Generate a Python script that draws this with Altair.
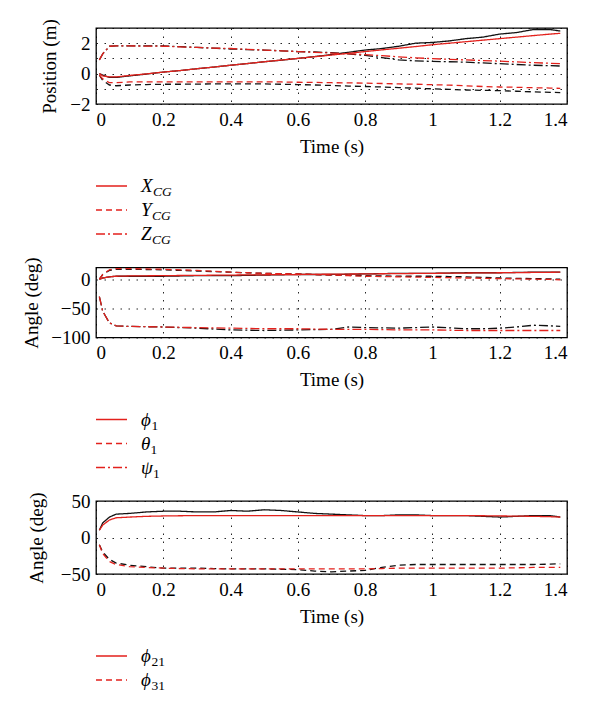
import altair as alt
import pandas as pd

SERIF = "Liberation Serif"
RED = "#e3211c"
BLACK = "#111111"

T = [0.01, 0.02, 0.04, 0.06, 0.1, 0.15, 0.2, 0.25, 0.3, 0.35, 0.4, 0.45, 0.5, 0.55, 0.6,
     0.65, 0.7, 0.75, 0.8, 0.85, 0.9, 0.95, 1.0, 1.05, 1.1, 1.15, 1.2, 1.25, 1.3, 1.35, 1.38]

# Panel 1: position (m)
X_red = [0.0, -0.15, -0.22, -0.22, -0.12, -0.02, 0.1, 0.2, 0.32, 0.43, 0.55, 0.66, 0.78, 0.89, 1.0,
         1.11, 1.22, 1.33, 1.45, 1.56, 1.67, 1.78, 1.9, 2.0, 2.1, 2.2, 2.3, 2.4, 2.5, 2.6, 2.65]
X_blk = [0.0, -0.1, -0.25, -0.25, -0.15, -0.03, 0.1, 0.2, 0.32, 0.43, 0.55, 0.66, 0.78, 0.88, 1.0,
         1.12, 1.25, 1.4, 1.55, 1.65, 1.8, 2.0, 2.05, 2.15, 2.3, 2.4, 2.6, 2.7, 2.9, 2.9, 2.8]
Y_red = [-0.1, -0.35, -0.6, -0.6, -0.55, -0.55, -0.55, -0.55, -0.55, -0.55, -0.55, -0.55, -0.55, -0.55, -0.57,
         -0.58, -0.6, -0.61, -0.63, -0.65, -0.68, -0.7, -0.73, -0.76, -0.8, -0.85, -0.88, -0.9, -0.93, -0.95, -0.97]
Y_blk = [-0.1, -0.45, -0.75, -0.8, -0.75, -0.72, -0.7, -0.7, -0.69, -0.68, -0.68, -0.68, -0.68, -0.7, -0.72,
         -0.75, -0.78, -0.82, -0.85, -0.88, -0.92, -0.96, -1.0, -1.04, -1.08, -1.1, -1.12, -1.16, -1.2, -1.23, -1.25]
Z_red = [0.9, 1.3, 1.8, 1.82, 1.82, 1.81, 1.8, 1.76, 1.72, 1.68, 1.65, 1.6, 1.55, 1.5, 1.45,
         1.4, 1.35, 1.3, 1.25, 1.18, 1.1, 1.04, 0.98, 0.94, 0.9, 0.86, 0.82, 0.77, 0.72, 0.68, 0.65]
Z_blk = [0.9, 1.3, 1.8, 1.82, 1.82, 1.82, 1.82, 1.77, 1.72, 1.67, 1.62, 1.58, 1.55, 1.5, 1.45,
         1.42, 1.38, 1.3, 1.2, 1.05, 0.9, 0.84, 0.8, 0.78, 0.75, 0.7, 0.65, 0.6, 0.55, 0.52, 0.5]

# Panel 2: body angles (deg)
phi1_blk = [0, 2, 4, 5, 5, 5, 5, 5.5, 6, 6, 6, 6.5, 7, 7.5, 8,
            8, 8, 8.5, 9, 9.5, 10, 10, 10, 10.5, 11, 11, 11, 11.5, 12, 12, 12]
phi1_red = [0, 2, 4, 5, 5.5, 5.8, 6, 6.3, 6.5, 6.8, 7, 7.3, 7.5, 7.8, 8,
            8.3, 8.5, 8.8, 9, 9.3, 9.5, 9.8, 10, 10.3, 10.5, 10.8, 11, 11.3, 11.5, 11.8, 12]
theta1_blk = [0, 8, 15, 17, 17, 16.5, 16, 15, 14, 13, 12, 11, 10, 9.5, 9,
              8, 7, 6.5, 6, 5.5, 5, 5, 5, 4.5, 4, 3, 2, 1.5, 1, 0.5, 0]
theta1_red = [0, 8, 16, 18, 18, 17.5, 17, 16, 15, 13.5, 12, 11, 10, 9.5, 9,
              8, 7, 6, 5, 4.5, 4, 3.5, 3, 2.5, 2, 1.5, 1, 0.5, 0, -0.5, -1]
psi1_blk = [-30, -55, -75, -80, -81, -81.5, -82, -83, -84, -85.5, -87, -87.5, -88, -87.5, -87,
            -86.5, -86, -82, -83, -83.5, -84, -83, -82, -83.5, -85, -85, -84, -82, -79, -80, -81]
psi1_red = [-30, -55, -75, -80, -81, -81.5, -82, -82.5, -83, -83.5, -84, -84.5, -85, -85, -85,
            -85.5, -86, -86, -86, -86.5, -87, -87, -87, -87.5, -88, -88, -88, -88, -88, -88, -88]

# Panel 3: leg angles (deg)
phi21_red = [10, 17, 24, 27, 28, 29, 29.5, 29.8, 30, 30, 30, 30, 30, 30, 30,
             30, 30, 30, 30, 30, 30, 30, 30, 30, 30, 29.8, 29.5, 29.3, 29, 28.5, 28]
phi21_blk = [10, 20, 28, 32, 33, 35, 36, 36, 35, 35, 37, 36, 38, 37, 35,
             33, 32, 31, 30, 30, 31, 31, 30, 30, 30, 29, 28, 29, 30, 30, 28]
phi31_red = [-10, -22, -33, -37, -40, -41, -42, -42.5, -43, -43, -43, -43, -43, -43, -43,
             -43, -43, -43, -43, -42.5, -42, -42, -42, -42, -42, -42, -42, -41.5, -41, -41, -41]
phi31_blk = [-10, -20, -30, -35, -38, -40, -42, -42, -42, -42.5, -43, -43, -43, -43.5, -44,
             -46, -47, -46, -45, -41, -38, -37, -37, -37, -37, -37, -37, -37, -37, -36.5, -36]

X_TICKS = [0, 0.2, 0.4, 0.6, 0.8, 1, 1.2, 1.4]

DASHES = {"solid": [1, 0], "dash": [6, 4], "dashdot": [9, 3, 2, 3]}

P1_LEGEND = [("X", "CG", "solid", True), ("Y", "CG", "dash", True), ("Z", "CG", "dashdot", True)]
P2_LEGEND = [("\u03d5", "1", "solid", False), ("\u03b8", "1", "dash", False), ("\u03c8", "1", "dashdot", False)]
P3_LEGEND = [("\u03d5", "21", "solid", False), ("\u03d5", "31", "dash", False)]

SYM_W = {"X": 12, "Y": 11, "Z": 11, "\u03d5": 10.5, "\u03b8": 9.5, "\u03c8": 12}

W = 471
FS = 19


def make_panel(curves, dom, yvals, ytitle, h, legend, label_expr, tpad):
    rows = []
    for name, dkey, red, blk in curves:
        for src, vals in (("exp", blk), ("sim", red)):
            for t, v in zip(T, vals):
                rows.append({"t": t, "v": v, "series": name, "src": src})
    df = pd.DataFrame(rows)
    names = [c[0] for c in curves]
    dashes = [DASHES[c[1]] for c in curves]
    x = alt.X("t:Q", scale=alt.Scale(domain=[0, 1.4], nice=False, zero=False),
              axis=alt.Axis(values=X_TICKS, format="~g", title="Time (s)", titlePadding=8))
    y = alt.Y("v:Q", scale=alt.Scale(domain=dom, nice=False, zero=False),
              axis=alt.Axis(values=yvals, labelExpr=label_expr, title=ytitle, titlePadding=tpad))
    layers = []
    for src, col in (("exp", BLACK), ("sim", RED)):
        layers.append(
            alt.Chart(df).transform_filter(alt.datum.src == src)
            .mark_line(color=col, strokeWidth=1.3, clip=True)
            .encode(x=x, y=y,
                    strokeDash=alt.StrokeDash("series:N", scale=alt.Scale(domain=names, range=dashes), legend=None),
                    detail="series:N")
        )
    one = pd.DataFrame({"k": [0]})
    for i, (sym, sub, dkey, ital) in enumerate(legend):
        yy = h + 82 + 24 * i
        layers.append(alt.Chart(one).mark_rule(color=RED, strokeWidth=1.3, strokeDash=DASHES[dkey])
                      .encode(x=alt.value(0), x2=alt.value(31), y=alt.value(yy)))
        layers.append(alt.Chart(one).mark_text(align="left", baseline="middle", font=SERIF,
                                               fontStyle="italic", fontSize=19, color="black")
                      .encode(x=alt.value(45), y=alt.value(yy), text=alt.value(sym)))
        layers.append(alt.Chart(one).mark_text(align="left", baseline="middle", font=SERIF,
                                               fontStyle="italic" if ital else "normal",
                                               fontSize=13.5, color="black")
                      .encode(x=alt.value(45 + SYM_W[sym]), y=alt.value(yy + 6), text=alt.value(sub)))
    return alt.layer(*layers).properties(width=W, height=h)


MINUS = "replace(datum.label, '-', '\u2212')"

p1 = make_panel(
    [("X", "solid", X_red, X_blk), ("Y", "dash", Y_red, Y_blk), ("Z", "dashdot", Z_red, Z_blk)],
    [-2, 3], [-2, -1, 0, 1, 2, 3], "Position (m)", 76, P1_LEGEND,
    "datum.value % 2 == 0 ? " + MINUS + " : ''", 10)
p2 = make_panel(
    [("phi1", "solid", phi1_red, phi1_blk), ("theta1", "dash", theta1_red, theta1_blk),
     ("psi1", "dashdot", psi1_red, psi1_blk)],
    [-100, 20], [-100, -50, 0], "Angle (deg)", 70, P2_LEGEND, MINUS, 9)
p3 = make_panel(
    [("phi21", "solid", phi21_red, phi21_blk), ("phi31", "dash", phi31_red, phi31_blk)],
    [-50, 50], [-50, 0, 50], "Angle (deg)", 73, P3_LEGEND, MINUS, 14)

chart = alt.vconcat(p1, p2, p3, spacing=163.5, bounds="flush").properties(
    padding={"left": 14, "top": 10, "right": 5, "bottom": 5}, background="white"
).configure_axis(
    labelFont=SERIF, titleFont=SERIF, labelFontSize=FS, titleFontSize=FS,
    titleFontWeight="normal", labelColor="black", titleColor="black",
    domain=False, ticks=False, labelPadding=6,
    gridColor="black", gridDash=[1.5, 6.5], gridWidth=1, gridOpacity=0.85,
).configure_view(stroke="black", strokeWidth=1.3)

chart.save("out.html", embed_options={"renderer": "svg", "actions": False})
